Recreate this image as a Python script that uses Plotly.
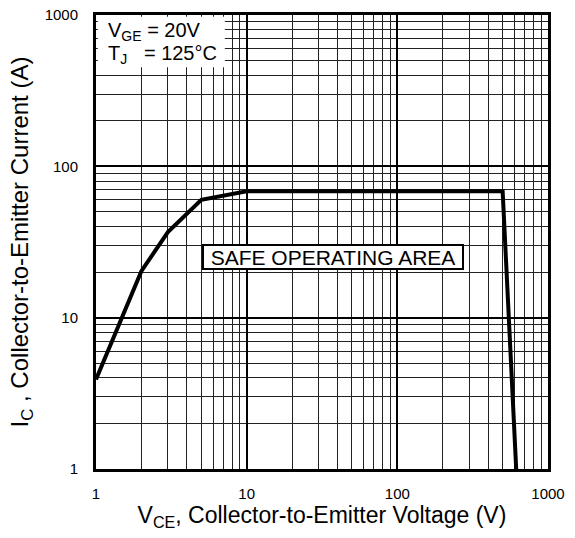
import plotly.graph_objects as go

# Data
vce = [1, 2, 3, 5, 10, 500, 615]
ic = [3.9, 20.3, 36.8, 60, 68.5, 68.5, 1]

x_tickvals = [1, 10, 100, 1000]
x_ticktext = ["1", "10", "100", "1000"]
y_tickvals = [1, 10, 100, 1000]
y_ticktext = ["1", "10", "100", "1000"]

FONT = "Liberation Sans, Arial, sans-serif"

fig = go.Figure()
fig.add_trace(go.Scatter(x=vce, y=ic, mode="lines",
                         line=dict(color="black", width=4),
                         showlegend=False, hoverinfo="skip"))

axis_common = dict(
    type="log", automargin=False,
    showline=True, mirror=True, linewidth=3, linecolor="black",
    showgrid=True, gridcolor="black", gridwidth=2,
    minor=dict(dtick="D1", showgrid=True, gridcolor="#222", gridwidth=1, ticks=""),
    ticks="", tickfont=dict(family=FONT, size=15, color="black"),
    ticklabeloverflow="allow",
    zeroline=False,
)

fig.update_xaxes(**axis_common, range=[0, 3], tickvals=x_tickvals, ticktext=x_ticktext,
                 ticklabelstandoff=9,
                 title=dict(text="V<sub>CE</sub>, Collector-to-Emitter Voltage (V)",
                            font=dict(family=FONT, size=23, color="black"), standoff=5))
fig.update_yaxes(**axis_common, range=[0, 3], tickvals=y_tickvals, ticktext=y_ticktext,
                 ticklabelstandoff=12,
                 title=dict(text="I<sub>C</sub> , Collector-to-Emitter Current (A)",
                            font=dict(family=FONT, size=24, color="black"), standoff=10))

# white legend box in the upper-left corner
fig.add_shape(type="rect", xref="paper", yref="paper",
              x0=0.004, x1=0.285, y0=0.885, y1=0.996,
              fillcolor="white", line=dict(width=0), layer="above")
fig.add_annotation(xref="paper", yref="paper", x=0.022, y=0.963, xanchor="left", yanchor="middle",
                   text="V<sub>GE</sub> = 20V", showarrow=False, align="left",
                   font=dict(family=FONT, size=20, color="black"))
fig.add_annotation(xref="paper", yref="paper", x=0.022, y=0.912, xanchor="left", yanchor="middle",
                   text="T<sub>J</sub>\u00a0\u00a0 = 125°C", showarrow=False, align="left",
                   font=dict(family=FONT, size=20, color="black"))

fig.add_annotation(x=1.576, y=1.40, xref="x", yref="y",
                   text="SAFE OPERATING AREA", showarrow=False,
                   font=dict(family=FONT, size=21, color="black"),
                   width=256, height=20,
                   bgcolor="white", bordercolor="black", borderwidth=2, borderpad=1)

fig.update_layout(width=575, height=538,
                  margin=dict(l=96, r=27, t=15, b=69),
                  plot_bgcolor="white", paper_bgcolor="white")

fig.write_html("out.html",
               config={"displayModeBar": False},
               post_script="document.body.style.margin='0';document.body.style.overflow='hidden';")
